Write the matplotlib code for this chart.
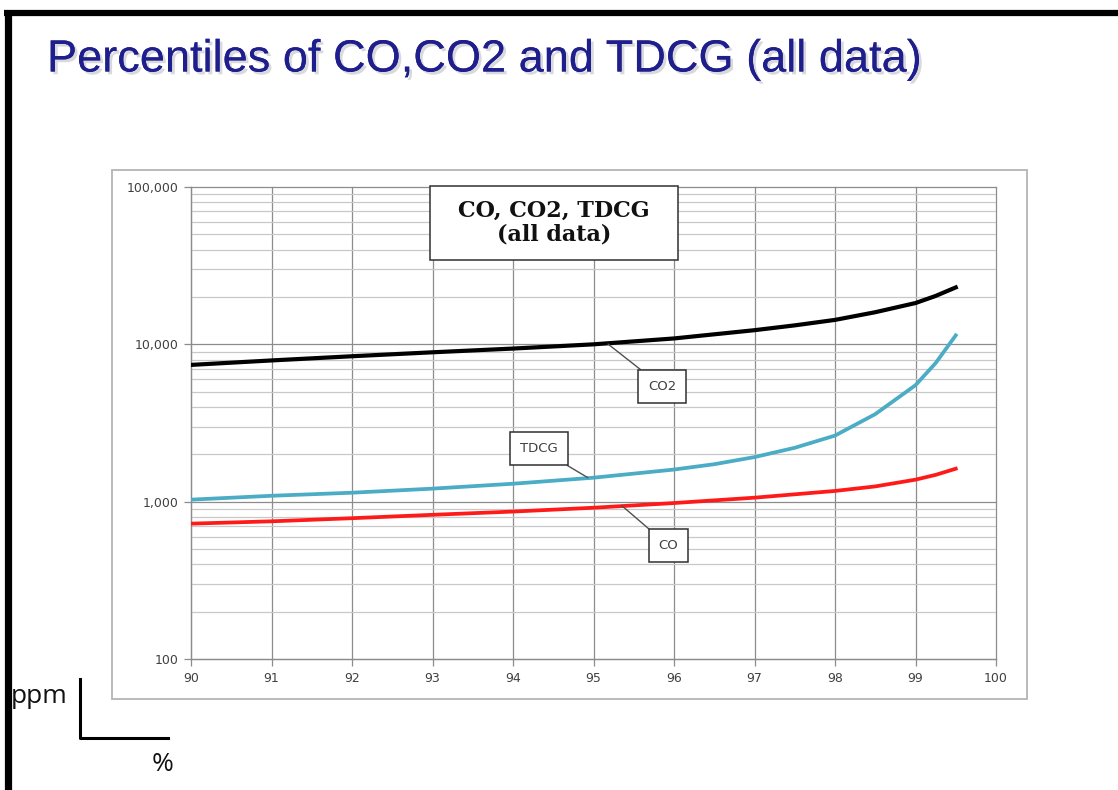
import numpy as np
import matplotlib.pyplot as plt
from matplotlib.patches import Rectangle
from matplotlib.lines import Line2D
import matplotlib.patheffects as pe
from matplotlib.ticker import FixedLocator, FixedFormatter, LogLocator, NullFormatter

W, H = 1118, 790

# percentile (%) and concentrations (ppm)
pct_co2 = [90, 91, 92, 93, 94, 95, 96, 97, 97.5, 98, 98.5, 99, 99.25, 99.5]
co2 = [7400, 7900, 8400, 8900, 9400, 10000, 10900, 12300, 13200, 14300, 16000, 18300, 20300, 23000]

pct_tdcg = [90, 91, 92, 93, 94, 95, 96, 96.5, 97, 97.5, 98, 98.5, 99, 99.25, 99.5]
tdcg = [1030, 1090, 1140, 1210, 1300, 1420, 1600, 1730, 1920, 2200, 2630, 3600, 5500, 7600, 11400]

pct_co = [90, 91, 92, 93, 94, 95, 96, 97, 98, 98.5, 99, 99.25, 99.5]
co = [725, 750, 785, 825, 865, 915, 980, 1060, 1170, 1250, 1380, 1480, 1620]

x_ticks = [90, 91, 92, 93, 94, 95, 96, 97, 98, 99, 100]
y_ticks = [100, 1000, 10000, 100000]
y_labels = ["100", "1,000", "10,000", "100,000"]


def fx(x):
    return x / W


def fy(y):
    return 1 - y / H


fig = plt.figure(figsize=(W / 100, H / 100), dpi=100)
fig.patch.set_facecolor("white")

# slide frame
fig.add_artist(Line2D([fx(4), fx(1118)], [fy(12.5), fy(12.5)], color="black", lw=4.5,
                      solid_capstyle="butt"))
fig.add_artist(Line2D([fx(7.5), fx(7.5)], [fy(10.2), fy(790)], color="black", lw=5.2,
                      solid_capstyle="butt"))

title = fig.text(fx(47), fy(60), "Percentiles of CO,CO2 and TDCG (all data)",
                 fontsize=32.5, color="#1e1e8c", family="Liberation Sans",
                 va="center", ha="left")
title.set_path_effects([pe.withSimplePatchShadow(offset=(2, -2), shadow_rgbFace="#9090a0", alpha=0.35),
                        pe.Normal()])

# chart area border
fig.add_artist(Rectangle((fx(112), fy(699)), (1027 - 112) / W, (699 - 170) / H,
                         transform=fig.transFigure, fill=False, edgecolor="#b4b4b4", lw=1.3))

ax = fig.add_axes([fx(191), fy(659), (996 - 191) / W, (659 - 187) / H])
ax.set_yscale("log")
ax.set_xlim(90, 100)
ax.set_ylim(100, 100000)

ax.plot(pct_co2, co2, color="black", lw=3.0, zorder=5)
ax.plot(pct_tdcg, tdcg, color="#4bacc6", lw=2.7, zorder=5)
ax.plot(pct_co, co, color="#ff1a1a", lw=2.7, zorder=5)

ax.xaxis.set_major_locator(FixedLocator(x_ticks))
ax.yaxis.set_major_locator(FixedLocator(y_ticks))
ax.yaxis.set_major_formatter(FixedFormatter(y_labels))
ax.yaxis.set_minor_locator(LogLocator(base=10, subs=np.arange(2, 10)))
ax.yaxis.set_minor_formatter(NullFormatter())

ax.grid(which="major", color="#8c8c8c", lw=0.9, clip_on=False)
ax.grid(which="minor", axis="y", color="#c8c8c8", lw=0.9)
ax.set_axisbelow(True)

for s in ["top", "right"]:
    ax.spines[s].set_visible(False)
for s in ["left", "bottom"]:
    ax.spines[s].set_color("#8c8c8c")
    ax.spines[s].set_linewidth(0.9)

ax.tick_params(which="major", direction="out", length=5, width=0.9, color="#8c8c8c",
               labelsize=9, labelcolor="#404040", pad=4)
ax.tick_params(which="minor", length=0)

# series labels with leader lines
box = dict(boxstyle="square,pad=0.75", fc="white", ec="#303030", lw=1.1)
leader = dict(arrowstyle="-", color="#505050", lw=1.0, shrinkA=0, shrinkB=0)
ax.annotate("CO2", xy=(95.18, 10050), xytext=(95.85, 5400), ha="center", va="center",
            fontsize=9.5, color="#404040", bbox=box, arrowprops=leader, zorder=6)
ax.annotate("TDCG", xy=(94.93, 1420), xytext=(94.32, 2180), ha="center", va="center",
            fontsize=9.5, color="#404040", bbox=box, arrowprops=leader, zorder=6)
ax.annotate("CO", xy=(95.35, 945), xytext=(95.93, 525), ha="center", va="center",
            fontsize=9.5, color="#404040", bbox=box, arrowprops=leader, zorder=6)

# chart title box
fig.add_artist(Rectangle((fx(430), fy(260)), (678 - 430) / W, (260 - 186) / H,
                         transform=fig.transFigure, fc="white", ec="#303030", lw=1.1, zorder=10))
fig.text(fx(554), fy(223), "CO, CO2, TDCG\n(all data)", ha="center", va="center",
         fontsize=16, fontweight="bold", family="DejaVu Serif", linespacing=1.1,
         color="#111111", zorder=11)

# axis units sketch
fig.add_artist(Line2D([fx(80), fx(80), fx(168)], [fy(679), fy(738), fy(738)],
                      color="black", lw=2.2))
fig.text(fx(11), fy(703), "ppm", fontsize=19, family="Open Sans", color="#111111",
         ha="left", va="baseline")
fig.text(fx(163), fy(771), "%", fontsize=19, family="Open Sans", color="#111111",
         ha="center", va="baseline")

fig.savefig("out.png", dpi=100)
